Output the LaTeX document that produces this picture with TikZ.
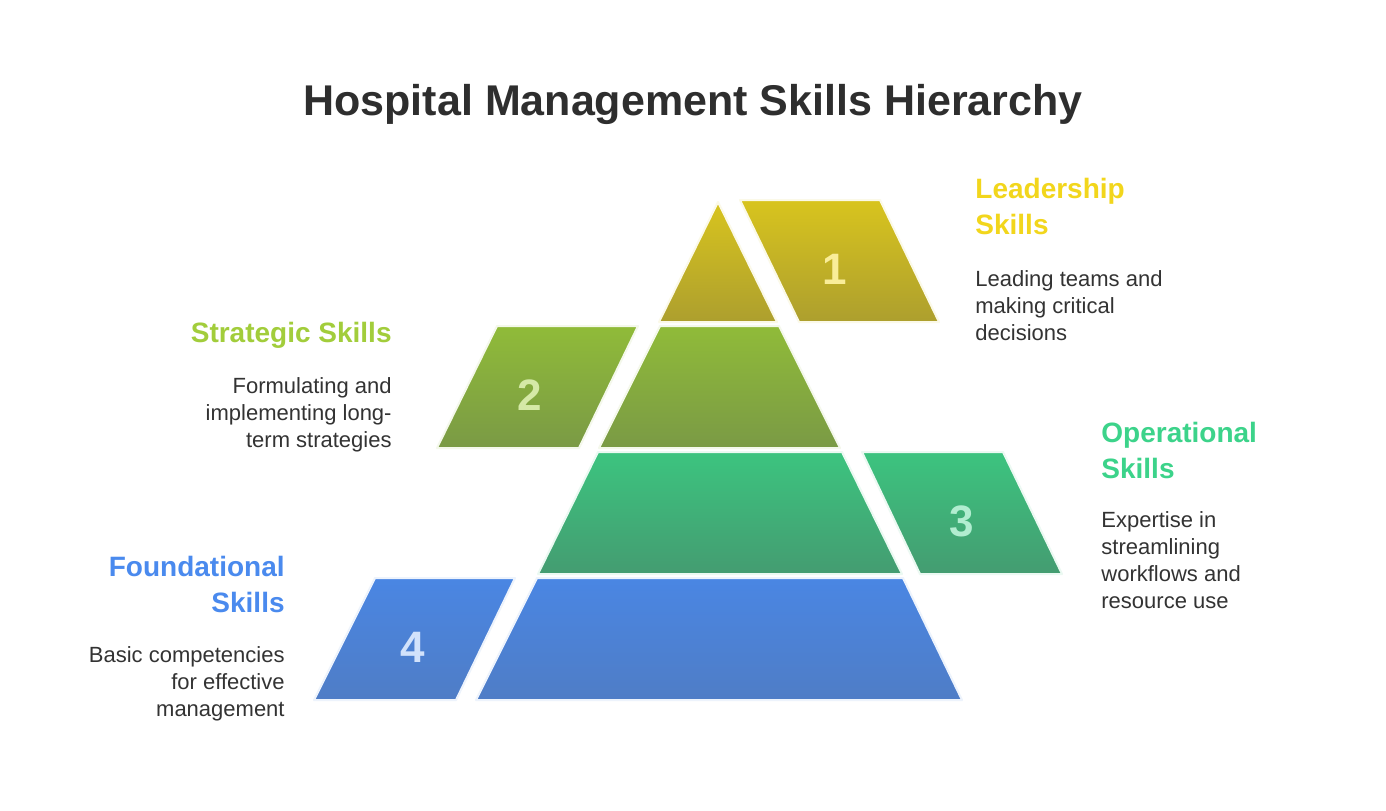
\documentclass[tikz,border=0pt]{standalone}
\usepackage{fontspec}
\setmainfont{Liberation Sans}

\definecolor{titlegray}{HTML}{2E2E2E}
\definecolor{textgray}{HTML}{333333}
\definecolor{leadlbl}{HTML}{F2D61C}
\definecolor{leadtop}{HTML}{D8C41E}
\definecolor{leadbot}{HTML}{AD9F2E}
\definecolor{stratlbl}{HTML}{A2CD3B}
\definecolor{strattop}{HTML}{90BB39}
\definecolor{stratbot}{HTML}{7A9A45}
\definecolor{operlbl}{HTML}{3CD38A}
\definecolor{opertop}{HTML}{3CC47F}
\definecolor{operbot}{HTML}{449C71}
\definecolor{foundlbl}{HTML}{4A8AEE}
\definecolor{foundtop}{HTML}{4A86E3}
\definecolor{foundbot}{HTML}{4F7DC6}

\begin{document}
\begin{tikzpicture}[x=0.5pt, y=-0.5pt,
    tier/.style={line width=1pt, line join=round},
    num/.style={font=\bfseries\fontsize{22}{22}\selectfont, inner sep=0pt},
    lbl/.style={font=\bfseries\fontsize{14}{18}\selectfont, inner sep=0pt},
    desc/.style={font=\fontsize{11}{13.5}\selectfont, text=textgray, inner sep=0pt}]

    \useasboundingbox[fill=white] (0,0) rectangle (1386,810);

    % Title
    \node[font=\bfseries\fontsize{21.5}{24}\selectfont, text=titlegray, anchor=base, inner sep=0pt]
        (title) at (693,115) {Hospital Management Skills Hierarchy};

    % pyramid tiers
    \shadedraw[tier, top color=leadtop, bottom color=leadbot, draw=leadtop!10!white]
        (718,202) -- (777,322) -- (659,322) -- cycle;
    \shadedraw[tier, top color=strattop, bottom color=stratbot, draw=strattop!10!white]
        (660,326) -- (779,326) -- (840,448) -- (599,448) -- cycle;
    \shadedraw[tier, top color=opertop, bottom color=operbot, draw=opertop!10!white]
        (598,452) -- (842,452) -- (902,574) -- (538,574) -- cycle;
    \shadedraw[tier, top color=foundtop, bottom color=foundbot, draw=foundtop!10!white]
        (537,578) -- (903,578) -- (962,700) -- (476,700) -- cycle;

    % number boxes
    \shadedraw[tier, top color=leadtop, bottom color=leadbot, draw=leadtop!10!white]
        (740,200) -- (880,200) -- (939,322) -- (799,322) -- cycle;
    \shadedraw[tier, top color=strattop, bottom color=stratbot, draw=strattop!10!white]
        (497,326) -- (638,326) -- (579,448) -- (437,448) -- cycle;
    \shadedraw[tier, top color=opertop, bottom color=operbot, draw=opertop!10!white]
        (862,452) -- (1003,452) -- (1062,574) -- (920,574) -- cycle;
    \shadedraw[tier, top color=foundtop, bottom color=foundbot, draw=foundtop!10!white]
        (375,578) -- (515,578) -- (456,700) -- (314,700) -- cycle;

    \node[num, text=leadlbl!45!white]  (n1) at (835,269) {1};
    \node[num, text=stratlbl!45!white] (n2) at (530,395) {2};
    \node[num, text=operlbl!40!white]  (n3) at (962,521) {3};
    \node[num, text=foundlbl!25!white] (n4) at (413,647) {4};

    % Add text labels (anchored on the last baseline)
    \node[lbl, text=leadlbl, anchor=base west, align=left] (lead) at (975,234) {Leadership\\Skills};
    \node[desc, anchor=base west, align=left] (leaddesc) at (975,340)
        {Leading teams and\\making critical\\decisions};

    \node[lbl, text=stratlbl, anchor=base east, align=right] (strat) at (392,342) {Strategic Skills};
    \node[desc, anchor=base east, align=right] (stratdesc) at (392,447)
        {Formulating and\\implementing long-\\term strategies};

    \node[lbl, text=operlbl, anchor=base west, align=left] (oper) at (1101,478) {Operational\\Skills};
    \node[desc, anchor=base west, align=left] (operdesc) at (1101,608)
        {Expertise in\\streamlining\\workflows and\\resource use};

    \node[lbl, text=foundlbl, anchor=base east, align=right] (found) at (285,612) {Foundational\\Skills};
    \node[desc, anchor=base east, align=right] (founddesc) at (285,716)
        {Basic competencies\\for effective\\management};
\end{tikzpicture}
\end{document}
